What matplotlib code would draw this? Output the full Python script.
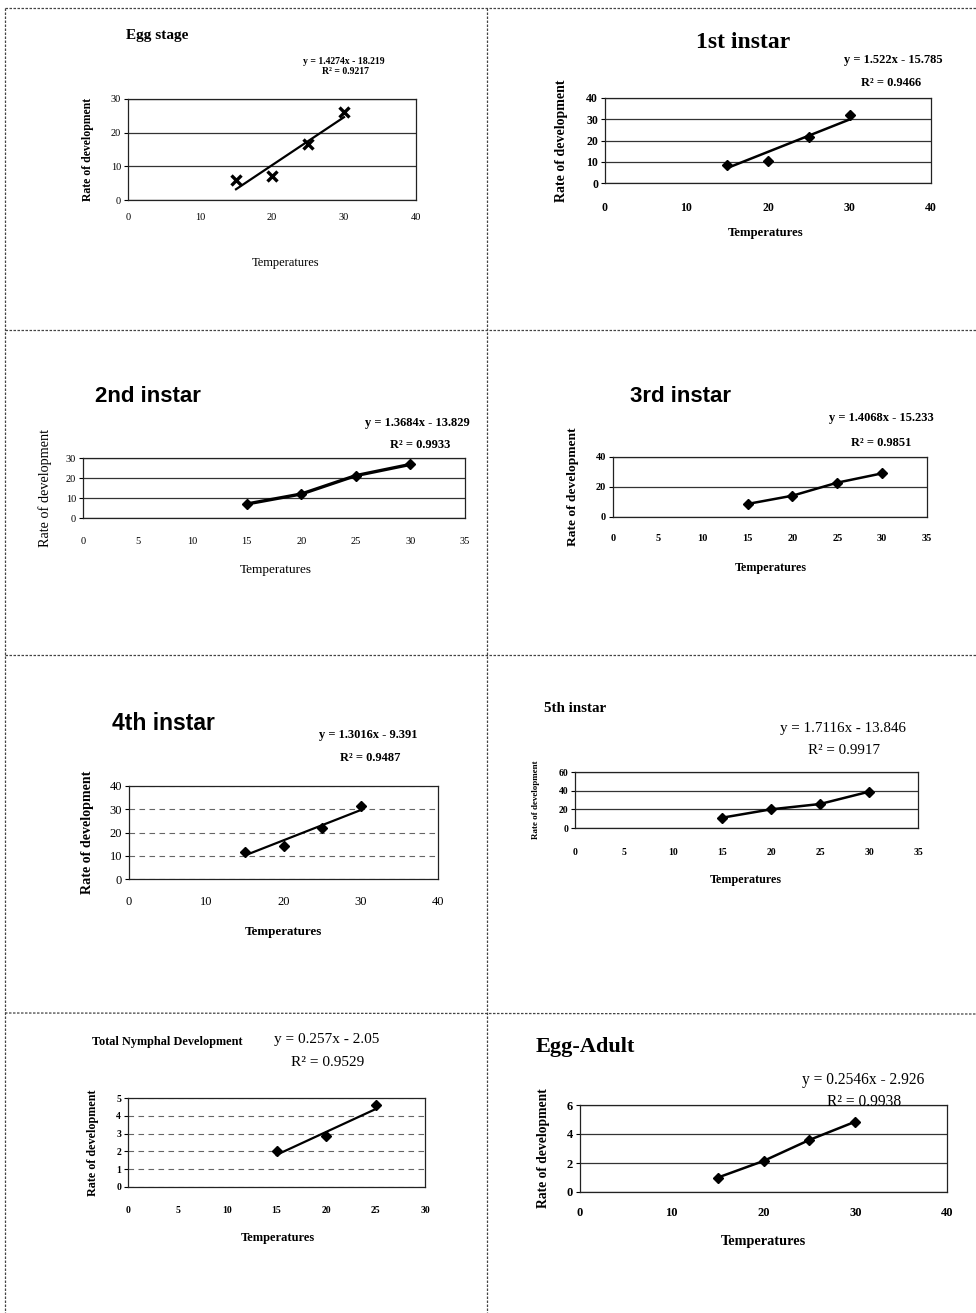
import matplotlib
matplotlib.use("Agg")
import matplotlib.pyplot as plt
from matplotlib.lines import Line2D
import numpy as np

# ---------------- data ----------------
temps = [15, 20, 25, 30]
temps_nymph = [15, 20, 25]

egg_rate = [5.9, 7.2, 16.6, 26.1]
instar1_rate = [8.5, 10.5, 21.6, 32.0]
instar2_rate = [7.0, 12.0, 21.2, 26.8]
instar3_rate = [8.7, 14.2, 22.9, 29.1]
instar4_rate = [11.7, 14.3, 22.1, 31.5]
instar5_rate = [11.0, 20.0, 25.7, 38.9]
nymph_rate = [2.04, 2.87, 4.6]
eggadult_rate = [0.99, 2.14, 3.59, 4.85]

titles = ["Egg stage", "1st instar", "2nd instar", "3rd instar",
          "4th instar", "5th instar", "Total Nymphal Development", "Egg-Adult"]
slopes = [1.4274, 1.522, 1.3684, 1.4068, 1.3016, 1.7116, 0.257, 0.2546]
intercepts = [-18.219, -15.785, -13.829, -15.233, -9.391, -13.846, -2.05, -2.926]
equations = ["y = 1.4274x - 18.219", "y = 1.522x - 15.785", "y = 1.3684x - 13.829",
             "y = 1.4068x - 15.233", "y = 1.3016x - 9.391", "y = 1.7116x - 13.846",
             "y = 0.257x - 2.05", "y = 0.2546x - 2.926"]
r2_labels = ["R² = 0.9217", "R² = 0.9466", "R² = 0.9933", "R² = 0.9851",
             "R² = 0.9487", "R² = 0.9917", "R² = 0.9529", "R² = 0.9938"]
xlabel_text = "Temperatures"
ylabel_text = "Rate of development"

# ---------------- figure ----------------
W, H = 976, 1313
fig = plt.figure(figsize=(W / 100, H / 100), dpi=100)
fig.patch.set_facecolor("white")

SERIF = "Liberation Serif"
SANS = "Liberation Sans"


def fx(x):
    return x / W


def fy(y):
    return 1 - y / H


def ftext(x, y, s, **kw):
    fig.text(fx(x), fy(y), s, **kw)


# cell borders (dotted)
border_kw = dict(color="#444444", lw=0.9, linestyle=(0, (2, 1.2)))
for (x0, y0, x1, y1) in [(5, 8, 976, 8), (5, 330, 976, 330), (5, 655, 976, 655),
                         (5, 1013, 976, 1014), (5, 8, 5, 1313), (487, 8, 487, 1313)]:
    fig.add_artist(Line2D([fx(x0), fx(x1)], [fy(y0), fy(y1)], transform=fig.transFigure, **border_kw))

panels = [
    dict(rates=egg_rate, x=temps, box=(128, 99, 416, 200), xlim=40, xstep=10, ylim=30, ystep=10,
         marker="x", mode="trend", grid="-", lw=1.6,
         title=(126, 35, "left", SERIF, 11), eq=(344, 62, 346, 72, 7, "bold"),
         ticks=(218, 7.5, "normal"), xl=(286, 263, 9, "normal"), yl=(88, 8.5, "bold")),
    dict(rates=instar1_rate, x=temps, box=(605, 98, 931, 183), xlim=40, xstep=10, ylim=40, ystep=10,
         marker="D", mode="trend", grid="-", lw=1.8,
         title=(743, 43, "center", SERIF, 17), eq=(893, 60, 891, 83, 9, "bold"),
         ticks=(207, 8.5, "bold"), xl=(766, 233, 9.2, "bold"), yl=(561, 10, "bold")),
    dict(rates=instar2_rate, x=temps, box=(83, 458, 465, 518), xlim=35, xstep=5, ylim=30, ystep=10,
         marker="D", mode="connect", grid="-", lw=2.4,
         title=(95, 397, "left", SANS, 16), eq=(417, 423, 420, 445, 9, "bold"),
         ticks=(542, 7.5, "normal"), xl=(276, 570, 9.5, "normal"), yl=(45, 10.3, "normal")),
    dict(rates=instar3_rate, x=temps, box=(613, 457, 927, 517), xlim=35, xstep=5, ylim=40, ystep=20,
         marker="D", mode="connect", grid="-", lw=1.8,
         title=(630, 397, "left", SANS, 16), eq=(881, 418, 881, 443, 9, "bold"),
         ticks=(539, 7.5, "bold"), xl=(771, 568, 8.7, "bold"), yl=(573, 9.7, "bold")),
    dict(rates=instar4_rate, x=temps, box=(129, 786, 438, 879), xlim=40, xstep=10, ylim=40, ystep=10,
         marker="D", mode="trend", grid="--", lw=1.6,
         title=(112, 723, "left", SANS, 16.5), eq=(368, 735, 370, 758, 9, "bold"),
         ticks=(902, 9, "normal"), xl=(283, 932, 9.4, "bold"), yl=(88, 10.1, "bold")),
    dict(rates=instar5_rate, x=temps, box=(575, 772, 918, 828), xlim=35, xstep=5, ylim=60, ystep=20,
         marker="D", mode="connect", grid="-", lw=1.8,
         title=(544, 708, "left", SERIF, 10.8), eq=(843, 728, 844, 750, 10.8, "normal"),
         ticks=(852, 7, "bold"), xl=(746, 880, 8.7, "bold"), yl=(536, 6.5, "bold")),
    dict(rates=nymph_rate, x=temps_nymph, box=(128, 1098, 425, 1187), xlim=30, xstep=5, ylim=5, ystep=1,
         marker="D", mode="trend", grid="--", lw=1.6,
         title=(92, 1042, "left", SERIF, 8.8), eq=(327, 1040, 328, 1062, 11, "normal"),
         ticks=(1210, 7, "bold"), xl=(278, 1238, 9, "bold"), yl=(93, 8.7, "bold")),
    dict(rates=eggadult_rate, x=temps, box=(580, 1105, 947, 1192), xlim=40, xstep=10, ylim=6, ystep=2,
         marker="D", mode="connect", grid="-", lw=1.8,
         title=(536, 1047, "left", SERIF, 16), eq=(863, 1080, 864, 1102, 11.2, "normal"),
         ticks=(1213, 9, "bold"), xl=(763, 1242, 10.3, "bold"), yl=(544, 9.8, "bold")),
]

for i, p in enumerate(panels):
    l, t, r, b = p["box"]
    ax = fig.add_axes([fx(l), fy(b), (r - l) / W, (b - t) / H])
    ax.set_xlim(0, p["xlim"])
    ax.set_ylim(0, p["ylim"])
    ax.set_xticks(np.arange(0, p["xlim"] + 0.1, p["xstep"]))
    ax.set_yticks(np.arange(0, p["ylim"] + 0.1, p["ystep"]))
    for s in ax.spines.values():
        s.set_color("#222222")
        s.set_linewidth(0.9)
    tick_y, tick_fs, tick_w = p["ticks"]
    pad_x = (tick_y - b) * 0.72 - 0.45 * tick_fs
    ax.tick_params(axis="x", length=0, pad=pad_x, labelsize=tick_fs)
    ax.tick_params(axis="y", length=3, width=0.8, direction="out", pad=2, labelsize=tick_fs)
    for lab in ax.get_xticklabels() + ax.get_yticklabels():
        lab.set_fontfamily(SERIF)
        lab.set_fontweight(tick_w)
    # gridlines
    if p["grid"] == "-":
        ax.yaxis.grid(True, color="#333333", lw=0.9, linestyle="-")
    else:
        ax.yaxis.grid(True, color="#666666", lw=0.8, linestyle=(0, (5, 4)))
    ax.set_axisbelow(True)

    xs = np.array(p["x"], dtype=float)
    ys = np.array(p["rates"], dtype=float)
    if p["mode"] == "trend":
        xx = np.array([xs.min(), xs.max()])
        ax.plot(xx, slopes[i] * xx + intercepts[i], color="black", lw=p["lw"], zorder=3)
    else:
        ax.plot(xs, ys, color="black", lw=p["lw"], zorder=3)
    if p["marker"] == "x":
        ax.plot(xs, ys, linestyle="none", marker="x", ms=7, mew=2.4, color="black", zorder=4)
    else:
        ax.plot(xs, ys, linestyle="none", marker="D", ms=5.5, color="black", zorder=4)

    # title
    tx, ty, tha, tfam, tfs = p["title"]
    ftext(tx, ty, titles[i], ha=tha, va="center", family=tfam, fontweight="bold", fontsize=tfs)
    # equation
    ex, ey, rx, ry, efs, ew = p["eq"]
    ftext(ex, ey, equations[i], ha="center", va="center", family=SERIF, fontweight=ew, fontsize=efs)
    ftext(rx, ry, r2_labels[i], ha="center", va="center", family=SERIF, fontweight=ew, fontsize=efs)
    # axis labels
    xlx, xly, xlfs, xlw = p["xl"]
    ftext(xlx, xly, xlabel_text, ha="center", va="center", family=SERIF, fontweight=xlw, fontsize=xlfs)
    ylx, ylfs, ylw = p["yl"]
    ftext(ylx, (t + b) / 2, ylabel_text, ha="center", va="center", rotation=90,
          family=SERIF, fontweight=ylw, fontsize=ylfs)

fig.savefig("out.png", dpi=100, facecolor="white")
